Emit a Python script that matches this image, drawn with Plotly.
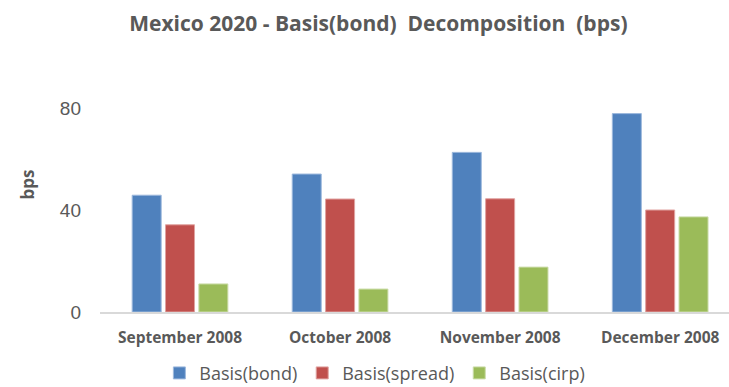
import plotly.graph_objects as go

months = ["September 2008", "October 2008", "November 2008", "December 2008"]
basis_bond = [45.8, 54.1, 62.6, 77.8]
basis_spread = [34.2, 44.3, 44.4, 40.0]
basis_cirp = [11.0, 9.0, 17.6, 37.3]
y_ticks = [0, 40, 80]

series = [
    ("Basis(bond)", basis_bond, "#4F81BD", "#9DB9DD"),
    ("Basis(spread)", basis_spread, "#C0504D", "#E0A3A1"),
    ("Basis(cirp)", basis_cirp, "#9BBB59", "#CBDCA8"),
]

fig = go.Figure()
for name, vals, color, edge in series:
    fig.add_trace(go.Bar(
        x=months, y=vals, name=name,
        marker=dict(color=color, line=dict(color=edge, width=1)),
    ))

grey = "#595959"
fig.update_layout(
    width=729, height=387,
    margin=dict(l=100, r=0, t=57, b=75, autoexpand=False),
    paper_bgcolor="white", plot_bgcolor="white",
    barmode="group", bargap=0.375, bargroupgap=0.13,
    title=dict(
        text="<b>Mexico 2020 - Basis(bond)  Decomposition  (bps)</b>",
        x=0.519, xanchor="center", y=0.94, yanchor="middle",
        font=dict(family="Open Sans", size=21, color=grey),
    ),
    xaxis=dict(
        type="category", range=[-0.5, 3.43], automargin=False,
        showline=True, linecolor="#D9D9D9", linewidth=2,
        ticks="", showgrid=False, ticklabelstandoff=10,
        tickfont=dict(family="Open Sans", size=15.5, color=grey),
        tickprefix="<b>", ticksuffix="</b>",
    ),
    yaxis=dict(
        range=[0, 100], tickvals=y_ticks, showgrid=False, zeroline=False,
        showline=False, ticks="", ticklabelstandoff=18, automargin=False,
        tickfont=dict(family="Liberation Sans", size=19, color=grey),
        title=dict(text="<b>bps</b>", standoff=20,
                   font=dict(family="Open Sans", size=17, color=grey)),
    ),
    legend=dict(
        orientation="h", x=0.437, xanchor="center", y=-0.24, yanchor="middle",
        font=dict(family="Open Sans", size=18, color=grey),
        itemwidth=30,
    ),
    showlegend=True,
)

fig.write_html("out.html")
